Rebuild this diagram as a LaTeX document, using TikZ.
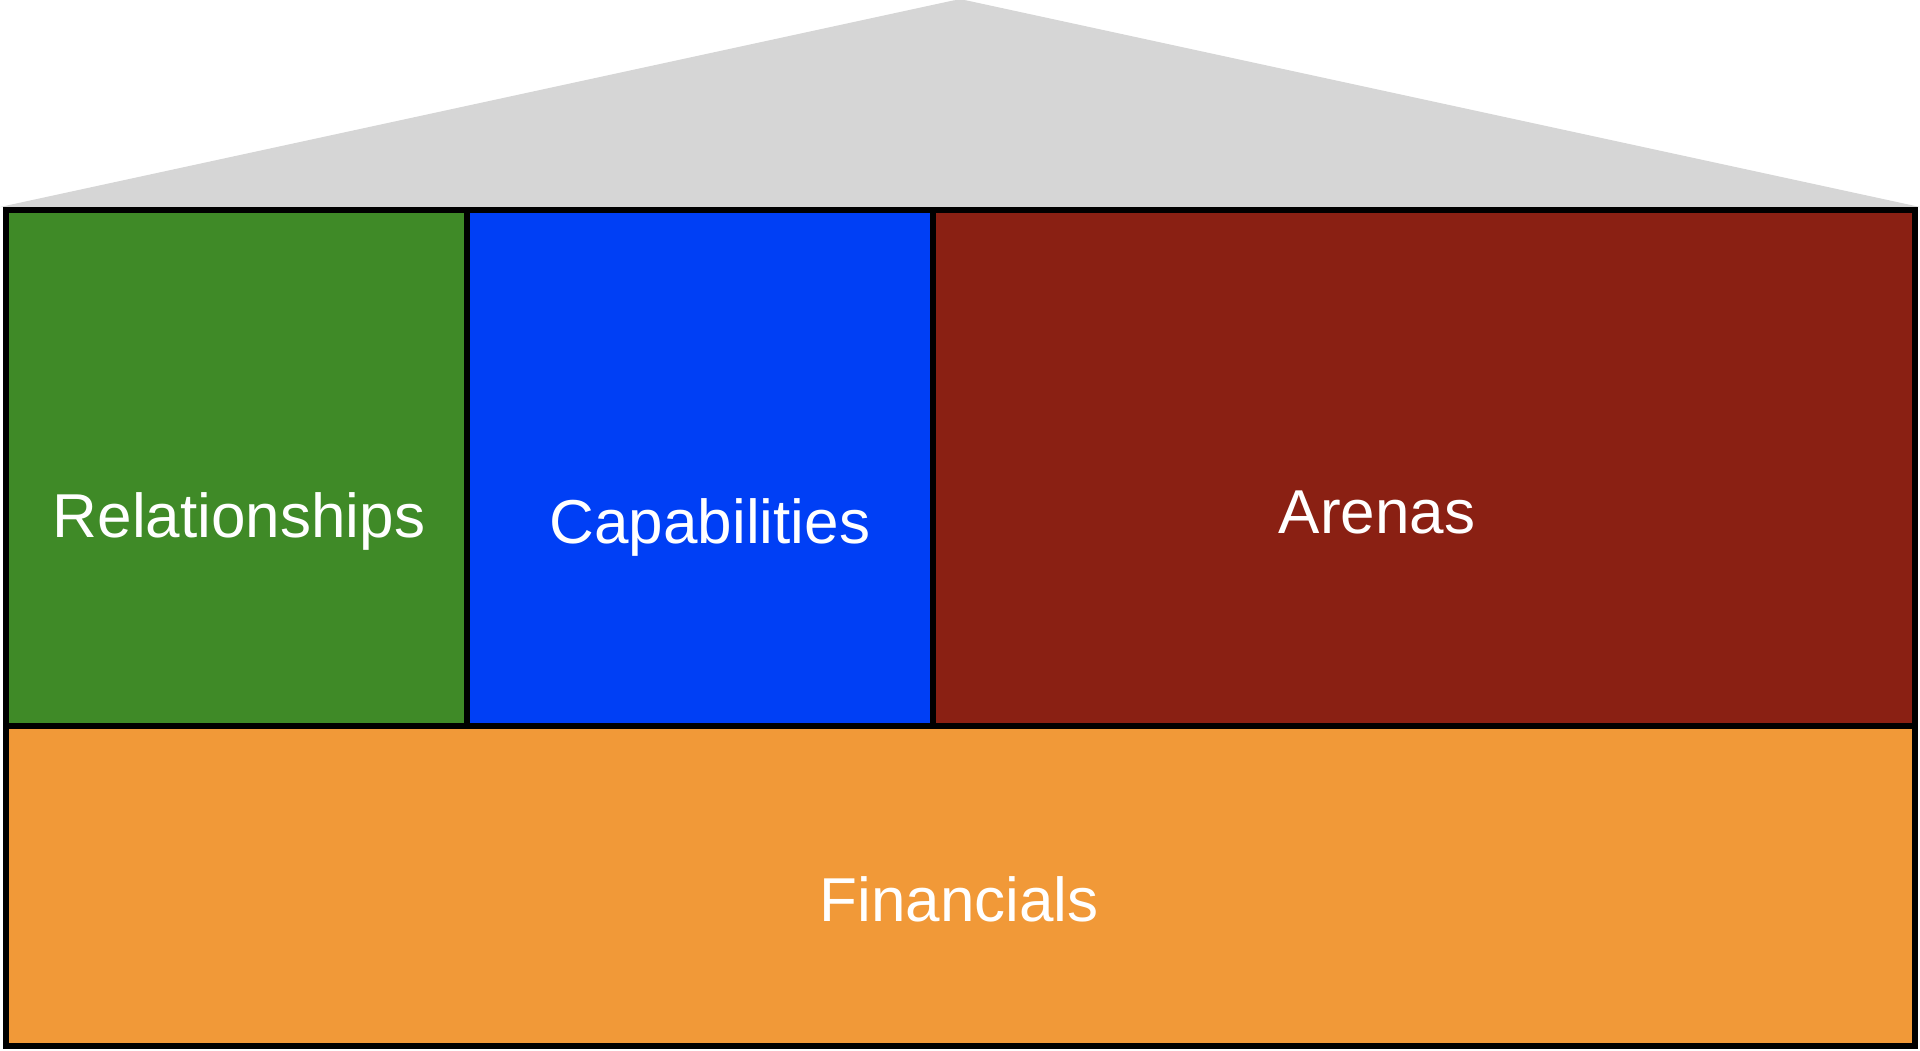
\documentclass[tikz,border=0pt]{standalone}
\usepackage{fontspec}
\setmainfont{Liberation Sans}
\definecolor{roofgray}{HTML}{D6D6D6}
\definecolor{relgreen}{HTML}{3F8A27}
\definecolor{capblue}{HTML}{003FF5}
\definecolor{arenared}{HTML}{8A2013}
\definecolor{finorange}{HTML}{F19938}
\begin{document}
\begin{tikzpicture}[x=1pt,y=-1pt,
  block/.style={draw=black,line width=6pt,rectangle,inner sep=0pt,outer sep=0pt},
  lbl/.style={text=white,font=\fontsize{62}{74}\selectfont,anchor=base,inner sep=0pt}]
\useasboundingbox (0,0) rectangle (1920,1050);
\fill[roofgray] (0,207) -- (953,0.5) to[out=10,in=170] (967,0.5) -- (1920,207) -- cycle;
\node[block,fill=relgreen,minimum width=461pt,minimum height=516.5pt] (rel) at (236.5,467.75) {};
\node[block,fill=capblue,minimum width=465.5pt,minimum height=516.5pt] (cap) at (699.75,467.75) {};
\node[block,fill=arenared,minimum width=982pt,minimum height=516.5pt] (are) at (1423.5,467.75) {};
\node[block,fill=finorange,minimum width=1908.5pt,minimum height=319.5pt] (fin) at (960.25,885.75) {};
\node[lbl] (relt) at (239,537) {Relationships};
\node[lbl] (capt) at (710,543) {Capabilities};
\node[lbl] (aret) at (1377,533) {Arenas};
\node[lbl] (fint) at (959,921) {Financials};
\end{tikzpicture}
\end{document}
